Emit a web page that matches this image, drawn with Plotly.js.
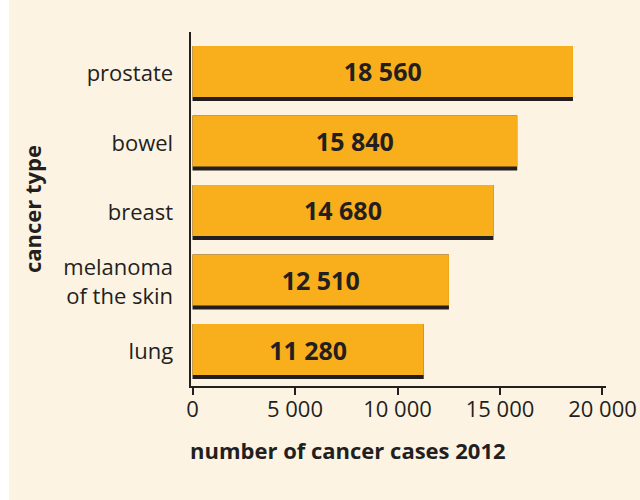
<!DOCTYPE html>
<html>
<head>
<meta charset="utf-8">
<script src="https://cdn.plot.ly/plotly-3.0.1.min.js"></script>
<style>
  html, body { margin: 0; padding: 0; background: #ffffff; width: 640px; height: 500px; overflow: hidden; }
  #chart { position: absolute; left: 9px; top: 0; width: 631px; height: 500px; }
</style>
</head>
<body>
<div id="chart"></div>
<script>
// Data (bottom to top)
const categories = ["lung", "melanoma<br>of the skin", "breast", "bowel", "prostate"];
const cases2012 = [11280, 12510, 14680, 15840, 18560];
const xTickVals = [0, 5000, 10000, 15000, 20000];
const xTickText = ["0", "5 000", "10 000", "15 000", "20 000"];

function fmt(v) {
  return String(v).replace(/\B(?=(\d{3})+(?!\d))/g, " ");
}

const ink = "#231f20";
const orange = "#f9ae1b";
const cream = "#fdf3e3";
const font = "'Open Sans', 'Noto Sans', sans-serif";

const shadow = {
  type: "bar", orientation: "h",
  y: categories, x: cases2012,
  width: 0.791, offset: -0.3955,
  marker: { color: ink, line: { width: 0 } },
  hoverinfo: "skip", showlegend: false
};
const bars = {
  type: "bar", orientation: "h",
  y: categories, x: cases2012,
  width: 0.734, offset: -0.338,
  marker: { color: orange, line: { width: 0 } },
  text: cases2012.map(fmt),
  textposition: "inside",
  insidetextanchor: "middle",
  textangle: 0,
  constraintext: "none",
  textfont: { family: font, size: 25, color: ink, weight: "bold" },
  hoverinfo: "skip", showlegend: false
};

const layout = {
  width: 631, height: 500,
  margin: { l: 182, r: 34, t: 32, b: 114, pad: 0 },
  paper_bgcolor: cream, plot_bgcolor: cream,
  barmode: "overlay",
  font: { family: font, color: ink, size: 22 },
  xaxis: {
    range: [-73, 20171],
    tickvals: xTickVals, ticktext: xTickText,
    showgrid: false, zeroline: false,
    showline: true, linecolor: ink, linewidth: 2,
    ticks: "outside", ticklen: 7, tickwidth: 2, tickcolor: ink,
    ticklabelstandoff: -4,
    tickfont: { family: font, size: 22, color: ink },
    fixedrange: true
  },
  yaxis: {
    type: "category",
    categoryorder: "array", categoryarray: categories,
    range: [-0.496, 4.597],
    showgrid: false, zeroline: false,
    showline: true, linecolor: ink, linewidth: 2.5,
    ticks: "", ticklabelstandoff: 11,
    tickfont: { family: font, size: 22, color: ink },
    fixedrange: true,
    title: { text: "cancer type", font: { family: font, size: 22, color: ink, weight: "bold" }, standoff: 16 }
  },
  annotations: [{
    text: "number of cancer cases 2012",
    xref: "paper", yref: "paper",
    x: 0, xanchor: "left", xshift: -3,
    y: 0, yanchor: "middle", yshift: -64,
    showarrow: false,
    font: { family: font, size: 22, color: ink, weight: "bold" }
  }],
  hovermode: false
};

Plotly.newPlot("chart", [shadow, bars], layout, { displayModeBar: false, staticPlot: true });
</script>
</body>
</html>
